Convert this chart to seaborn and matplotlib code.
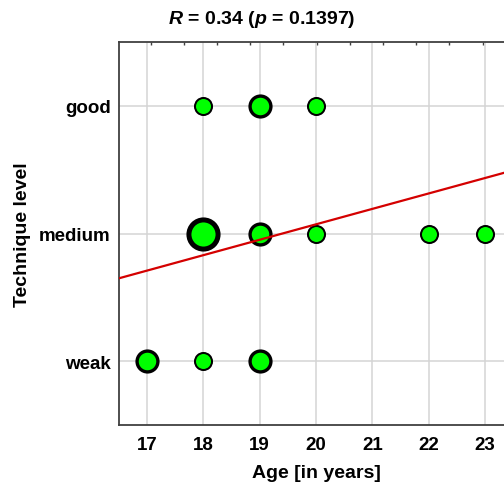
import matplotlib
matplotlib.use('Agg')
import matplotlib.pyplot as plt
import matplotlib.ticker as mticker
import seaborn as sns
import numpy as np
import pandas as pd

# 데이터: 나이 x 기술수준, 각 점의 인원수
ages = [17, 18, 19, 18, 19, 20, 22, 23, 18, 19, 20]
levels = [1, 1, 1, 2, 2, 2, 2, 2, 3, 3, 3]
counts = [2, 1, 2, 4, 2, 1, 1, 1, 1, 2, 1]
level_labels = ['weak', 'medium', 'good']
x_ticks = [17, 18, 19, 20, 21, 22, 23]
title_txt = r'$R$ = 0.34 ($p$ = 0.1397)'

sns.set_style('whitegrid')
plt.rcParams['font.family'] = ['Liberation Sans', 'DejaVu Sans']
plt.rcParams['font.weight'] = 'bold'
plt.rcParams['text.color'] = 'black'
plt.rcParams['axes.labelcolor'] = 'black'
plt.rcParams['xtick.color'] = 'black'
plt.rcParams['ytick.color'] = 'black'
plt.rcParams['mathtext.fontset'] = 'custom'
plt.rcParams['mathtext.it'] = 'Liberation Sans:italic:bold'
plt.rcParams['mathtext.rm'] = 'Liberation Sans:bold'

df = pd.DataFrame({'age': ages, 'level': levels, 'n': counts})
# 회귀용으로 인원수만큼 반복
df_long = df.loc[df.index.repeat(df['n'])].reset_index(drop=True)

fig = plt.figure(figsize=(5.04, 4.85), dpi=100)
ax = fig.add_axes([119 / 504, 59 / 485, 394 / 504, 383 / 485])
ax.set_xlim(16.5, 23.5)
ax.set_ylim(0.5, 3.5)

# 점 크기 / 테두리 두께 (인원수 기준)
marker_style = {1: (150, 1.45), 2: (225, 2.4), 4: (440, 3.6)}
for n, (s, lw) in marker_style.items():
    sub = df[df['n'] == n]
    sns.scatterplot(data=sub, x='age', y='level', s=s, color='#00ff00',
                    edgecolor='black', linewidth=lw, ax=ax, zorder=3,
                    legend=False)

sns.regplot(data=df_long, x='age', y='level', scatter=False, ci=None,
            truncate=False, color='#d40000', line_kws={'linewidth': 1.6, 'zorder': 4},
            ax=ax)
ax.set_xlim(16.5, 23.5)
ax.set_ylim(0.5, 3.5)

ax.set_xticks(x_ticks)
ax.set_yticks([1, 2, 3])
ax.set_yticklabels(level_labels)
ax.tick_params(axis='both', direction='in', length=3, width=1, color='#404040',
               labelsize=13.5, labelcolor='black', pad=6)
ax.tick_params(axis='x', pad=8)
for lab in ax.get_xticklabels() + ax.get_yticklabels():
    lab.set_fontweight('bold')

ax.grid(True, color='#d4d4d4', linewidth=1.1)
for side in ['left', 'bottom', 'top']:
    ax.spines[side].set_visible(True)
    ax.spines[side].set_color('#404040')
    ax.spines[side].set_linewidth(1.3)
ax.spines['right'].set_visible(False)

# 위쪽 작은 눈금
top = ax.secondary_xaxis('top')
top.xaxis.set_major_locator(mticker.FixedLocator(np.arange(17.06, 23.5, 0.59)))
top.tick_params(direction='in', length=2.5, width=1, color='#404040', labeltop=False)
top.spines['top'].set_visible(False)

ax.set_xlabel('Age [in years]', fontsize=14, fontweight='bold', labelpad=8)
ax.set_ylabel('Technique level', fontsize=14, fontweight='bold', labelpad=5.5)

fig.text(262 / 504, 1 - 19 / 485, title_txt, ha='center', va='center',
         fontsize=14, fontweight='bold')

fig.savefig('out.png', dpi=100)
